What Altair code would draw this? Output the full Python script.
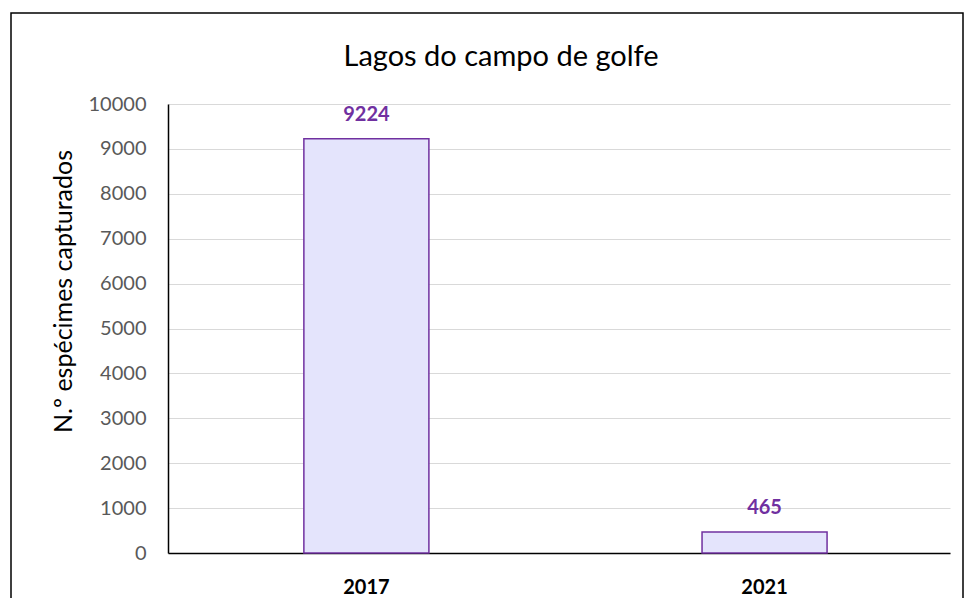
import altair as alt
import pandas as pd

years = ["2017", "2021"]
counts = [9224, 465]

df = pd.DataFrame({"ano": years, "n": counts})

W, H = 782, 449
FONT = "Lato"

base = alt.Chart(df)

x_enc = alt.X("ano:N", sort=years, title=None,
              scale=alt.Scale(paddingInner=0.686, paddingOuter=0.325, align=0.525),
              axis=alt.Axis(labelAngle=0, labelFontWeight="bold", labelFontSize=20,
                            labelColor="#000000", labelFont=FONT, labelPadding=24,
                            ticks=False, domainColor="#000000", domainWidth=1.5))
y_enc = alt.Y("n:Q", title="N.º espécimes capturados",
              scale=alt.Scale(domain=[0, 10000], nice=False),
              axis=alt.Axis(values=list(range(0, 10001, 1000)), ticks=False, format="d",
                            labelFontSize=20, labelColor="#595959", labelFont=FONT,
                            labelPadding=22, gridColor="#d9d9d9", gridWidth=1.2,
                            domainColor="#000000", domainWidth=1.5,
                            titleFont=FONT, titleFontSize=25, titleFontWeight="normal",
                            titleColor="#000000", titleX=-105, titleY=187,
                            titleBaseline="middle", titleAngle=-90))

bars = base.mark_bar(fill="#e4e4fc", stroke="#7030a0", strokeWidth=1.5).encode(x=x_enc, y=y_enc)

labels = base.mark_text(baseline="bottom", dy=-14, fontSize=20, fontWeight="bold",
                        color="#7030a0", font=FONT).encode(
    x=alt.X("ano:N", sort=years), y=alt.Y("n:Q"), text=alt.Text("n:Q", format="d"))

border = alt.Chart(pd.DataFrame({"k": [0]})).mark_rect(
    fill=None, stroke="#000000", strokeWidth=1.5).encode(
    x=alt.value(-157), x2=alt.value(W + 13), y=alt.value(-91), y2=alt.value(H + 80))

title = alt.Chart(pd.DataFrame({"t": ["Lagos do campo de golfe"]})).mark_text(
    fontSize=29, font=FONT, color="#000000", baseline="middle", align="center").encode(
    x=alt.value(W / 2 - 58), y=alt.value(-47), text="t:N")

chart = alt.layer(border, bars, labels, title).properties(
    width=W, height=H,
    autosize=alt.AutoSizeParams(type="none"),
    padding={"left": 160, "top": 96, "right": 15, "bottom": 45},
).configure_view(stroke=None)

chart.save("out.html", embed_options={"renderer": "svg", "actions": False})
